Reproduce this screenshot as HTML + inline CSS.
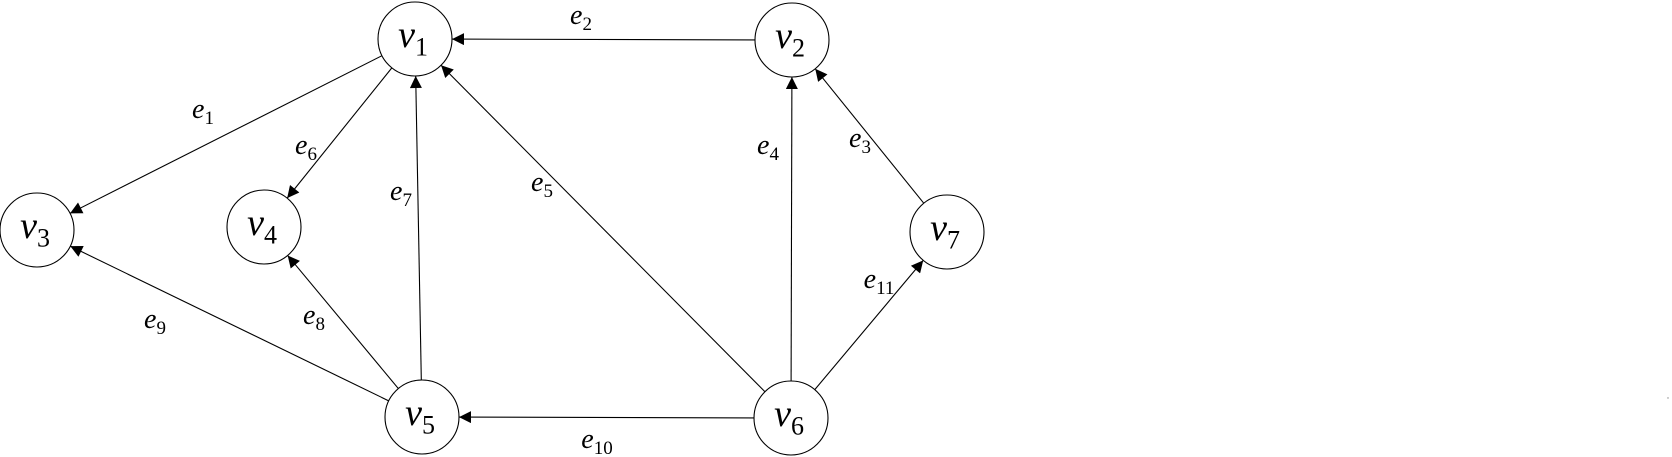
<!DOCTYPE html>
<html><head><meta charset="utf-8"><style>
html,body{margin:0;padding:0;background:#fff;}
svg{display:block;}
.n{font-family:"Liberation Serif",serif;font-style:italic;}
</style></head><body>
<svg id="g" width="1672" height="457" viewBox="0 0 1672 457">
<defs><marker id="ah" viewBox="0 0 10 10" refX="10" refY="5" markerWidth="15" markerHeight="12" markerUnits="userSpaceOnUse" orient="auto"><path d="M0,0 L10,5 L0,10 z" fill="#000"/></marker></defs>
<circle cx="1668" cy="398" r="0.7" fill="#888"/>
</svg>
<script>
const nodeIds=["v1","v2","v3","v4","v5","v6","v7"];
const nodeX=[415,792,37,264,422,791,947];
const nodeY=[39,40,230,227,417,418,232];
const edgeFrom=[0,1,6,5,5,0,4,4,4,5,5];
const edgeTo=[2,0,1,1,0,3,0,3,2,4,6];
const edgeLabelX=[203,581,860,768,542,306,401,314,155,597,879];
const edgeLabelY=[110,16,139,146,183,146,192,316,320,440,280];
const R=37;
const svg=document.getElementById('g');
const NS='http://www.w3.org/2000/svg';
function mk(t,a){const e=document.createElementNS(NS,t);for(const k in a)e.setAttribute(k,a[k]);return e;}
function lbl(x,y,main,sub,fs,ss,name){
  const t=mk('text',{x:x,y:y,'text-anchor':'middle','font-size':fs,class:'n'});
  
  
  const a=mk('tspan',{});a.textContent=main;t.appendChild(a);
  const b=mk('tspan',{dy:fs*0.22,'font-size':ss,'font-style':'normal'});b.textContent=sub;t.appendChild(b);
  svg.appendChild(t);
}
for(let i=0;i<edgeFrom.length;i++){
  const a=edgeFrom[i],b=edgeTo[i];
  const dx=nodeX[b]-nodeX[a],dy=nodeY[b]-nodeY[a],d=Math.hypot(dx,dy);
  const ux=dx/d,uy=dy/d;
  const l=mk('line',{x1:nodeX[a]+ux*R,y1:nodeY[a]+uy*R,x2:nodeX[b]-ux*R,y2:nodeY[b]-uy*R,stroke:'#000','stroke-width':1.1,'marker-end':'url(#ah)'});
  
  
  svg.appendChild(l);
  lbl(edgeLabelX[i],edgeLabelY[i]+8,'e',String(i+1),28,19,'edge-label-e'+(i+1));
}
for(let i=0;i<nodeIds.length;i++){
  const c=mk('circle',{cx:nodeX[i],cy:nodeY[i],r:R,fill:'#fff',stroke:'#000','stroke-width':1.1});
  
  
  svg.appendChild(c);
  lbl(nodeX[i]-2,nodeY[i]+8,'v',nodeIds[i].slice(1),38,26,'node-label-'+nodeIds[i]);
}
</script>
</body></html>
